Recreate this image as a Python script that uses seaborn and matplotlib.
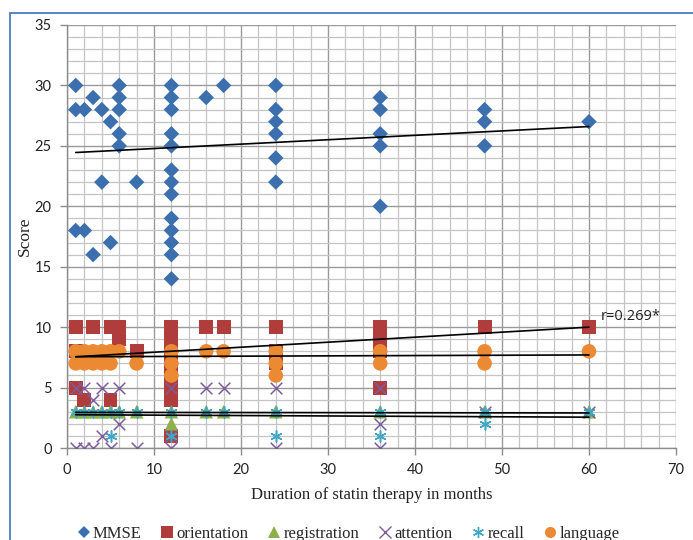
import matplotlib
matplotlib.use("Agg")
import matplotlib.pyplot as plt
import seaborn as sns
import pandas as pd
import numpy as np
from matplotlib.lines import Line2D
from matplotlib.patches import Rectangle
from matplotlib.ticker import MultipleLocator

# ---------------- data ----------------
mmse_x = [1, 1, 1, 2, 2, 3, 3, 4, 4, 5, 5, 6, 6, 6, 6, 6, 8,
          12, 12, 12, 12, 12, 12, 12, 12, 12, 12, 12, 12, 12,
          16, 18, 24, 24, 24, 24, 24, 24, 36, 36, 36, 36, 36, 48, 48, 48, 60]
mmse_y = [30, 28, 18, 28, 18, 29, 16, 28, 22, 27, 17, 30, 29, 28, 26, 25, 22,
          30, 29, 28, 26, 25, 23, 22, 21, 19, 18, 17, 16, 14,
          29, 30, 30, 28, 27, 26, 24, 22, 29, 28, 26, 25, 20, 28, 27, 25, 27]

orientation_x = [1, 1, 1, 2, 3, 5, 5, 6, 6, 8,
                 12, 12, 12, 12, 12, 12, 12, 12,
                 16, 18, 24, 24, 24, 36, 36, 36, 36, 48, 60]
orientation_y = [10, 8, 5, 4, 10, 10, 4, 10, 9, 8,
                 10, 9, 8, 7, 6, 5, 4, 1,
                 10, 10, 10, 8, 7, 10, 9, 8, 5, 10, 10]

registration_x = [1, 2, 3, 4, 5, 6, 8, 12, 12, 16, 18, 24, 36, 48, 60]
registration_y = [3, 3, 3, 3, 3, 3, 3, 3, 2, 3, 3, 3, 3, 3, 3]

attention_x = [1, 1, 2, 2, 3, 3, 4, 4, 5, 6, 6, 8, 12, 12, 12,
               16, 18, 24, 24, 36, 36, 36, 48, 60]
attention_y = [5, 0, 5, 0, 4, 0, 5, 1, 0, 5, 2, 0, 5, 1, 0,
               5, 5, 5, 0, 5, 2, 0, 3, 3]

recall_x = [1, 2, 3, 4, 5, 5, 6, 8, 12, 12, 16, 18, 24, 24, 36, 36, 48, 48, 60]
recall_y = [3, 3, 3, 3, 3, 1, 3, 3, 3, 1, 3, 3, 3, 1, 3, 1, 3, 2, 3]

language_x = [1, 2, 3, 4, 5, 6, 1, 2, 3, 4, 5, 8, 12, 12, 12,
              16, 18, 24, 24, 24, 36, 36, 48, 48, 60]
language_y = [8, 8, 8, 8, 8, 8, 7, 7, 7, 7, 7, 7, 8, 7, 6,
              8, 8, 8, 7, 6, 8, 7, 8, 7, 8]

# linear trend lines (end values)
trend_x = [1, 60]
mmse_trend = [24.45, 26.6]
orientation_trend = [7.55, 10.0]
language_trend = [7.55, 7.7]
registration_trend = [2.95, 2.9]
recall_trend = [2.75, 2.55]

series_names = ["MMSE", "orientation", "registration", "attention", "recall", "language"]
x_ticks = [0, 10, 20, 30, 40, 50, 60, 70]
y_ticks = [0, 5, 10, 15, 20, 25, 30, 35]

# ---------------- style ----------------
colors = {"MMSE": "#3B6FAE", "orientation": "#B13C3C", "registration": "#8DB04A",
          "attention": "#7C5C9E", "recall": "#3FA7C3", "language": "#EB8A33"}
markers = {"MMSE": "D", "orientation": "s", "registration": "^",
           "attention": "x", "recall": (6, 2, 0), "language": "o"}
sizes = {"MMSE": 62, "orientation": 100, "registration": 95,
         "attention": 70, "recall": 65, "language": 110}

sns.set_theme(style="white")
plt.rcParams["font.family"] = ["Lato", "DejaVu Sans"]

fig = plt.figure(figsize=(6.93, 5.40), dpi=100)
ax = fig.add_axes([67 / 693, 92 / 540, 609 / 693, 423 / 540])

data = {"MMSE": (mmse_x, mmse_y), "orientation": (orientation_x, orientation_y),
        "registration": (registration_x, registration_y),
        "attention": (attention_x, attention_y), "recall": (recall_x, recall_y),
        "language": (language_x, language_y)}

for i, name in enumerate(series_names):
    xs, ys = data[name]
    df = pd.DataFrame({"x": xs, "y": ys})
    lw = 1.1 if name in ("attention", "recall") else 0
    sns.scatterplot(data=df, x="x", y="y", ax=ax, marker=markers[name],
                    color=colors[name], s=sizes[name], linewidth=lw,
                    edgecolor=colors[name] if lw else "none", zorder=3 + i)

trends = [mmse_trend, orientation_trend, language_trend, registration_trend, recall_trend]
for tr in trends:
    sns.lineplot(x=trend_x, y=tr, ax=ax, color="black", linewidth=1.2, zorder=10)

ax.text(61.3, 10.9, "r=0.269*", fontsize=10.5, color="#222222",
        fontfamily=["Open Sans", "DejaVu Sans"], va="center", ha="left")

ax.set_xlim(0, 70)
ax.set_ylim(0, 35)
ax.set_xticks(x_ticks)
ax.set_yticks(y_ticks)
ax.xaxis.set_minor_locator(MultipleLocator(2))
ax.yaxis.set_minor_locator(MultipleLocator(1))
ax.grid(which="major", color="#9a9a9a", linewidth=1.0)
ax.grid(which="minor", color="#c4c4c4", linewidth=0.9)
ax.set_axisbelow(True)
for side in ["top", "right"]:
    ax.spines[side].set_visible(False)
for side in ["left", "bottom"]:
    ax.spines[side].set_color("#8c8c8c")
    ax.spines[side].set_linewidth(1.0)
ax.tick_params(axis="both", which="major", direction="out", length=5, width=1,
               color="#8c8c8c", labelsize=10.5, labelcolor="#222222", pad=6,
               bottom=True, left=True)
ax.tick_params(axis="both", which="minor", length=0)

ax.set_xlabel("Duration of statin therapy in months", fontsize=12,
              fontfamily=["Liberation Serif"], color="#222222", labelpad=7)
ax.set_ylabel("Score", fontsize=12.5, fontfamily=["Liberation Serif"],
              color="#222222", labelpad=1)

handles = []
for name in series_names:
    m = markers[name]
    ms = {"MMSE": 6, "orientation": 8, "registration": 8, "attention": 8,
          "recall": 8, "language": 8}[name]
    handles.append(Line2D([], [], linestyle="none", marker=m, color=colors[name],
                          markersize=ms, markeredgewidth=1.0 if name in ("attention", "recall") else 0))
fig.legend(handles, series_names, loc="center", bbox_to_anchor=(0.503, 0.012),
           ncol=6, frameon=False, handlelength=0.7, handletextpad=0.2,
           columnspacing=1.2, prop={"family": "Liberation Serif", "size": 12})

fig.add_artist(Rectangle((10 / 693, -0.05), 1.0, 0.976 + 0.05,
                         transform=fig.transFigure, fill=False,
                         edgecolor="#4C7CC0", linewidth=1.3))

fig.savefig("out.png", dpi=100)
